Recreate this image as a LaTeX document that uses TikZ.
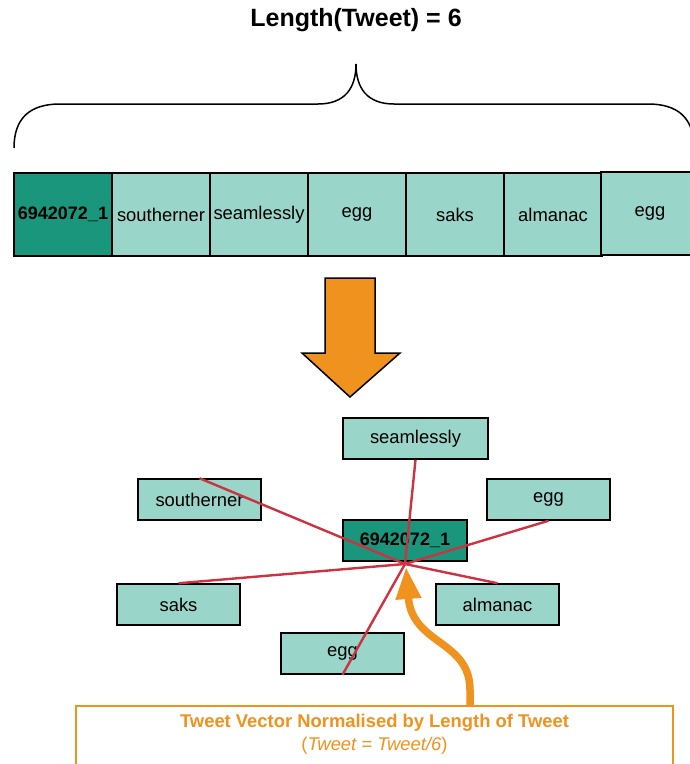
\documentclass[tikz,border=0pt]{standalone}
\usepackage{fontspec}
\setmainfont{Liberation Sans}
\usetikzlibrary{arrows.meta}
\definecolor{lightteal}{HTML}{9AD5CA}
\definecolor{darkteal}{HTML}{1A967C}
\definecolor{arroworange}{HTML}{F0921E}
\definecolor{linkred}{HTML}{CC3340}
\tikzset{
  cell/.style={draw=black, line width=1.5pt, fill=lightteal, inner sep=0pt,
    minimum width=98pt, minimum height=83pt, font=\fontsize{18.4}{21}\selectfont},
  idcell/.style={cell, fill=darkteal, font=\fontsize{18}{21}\selectfont\bfseries},
  wordbox/.style={draw=black, line width=1.5pt, fill=lightteal, inner sep=0pt,
    minimum width=123pt, minimum height=41pt, font=\fontsize{18.4}{21}\selectfont},
  idbox/.style={wordbox, fill=darkteal, font=\fontsize{18}{21}\selectfont\bfseries},
  link/.style={linkred, line width=2.4pt},
}

\begin{document}
\begin{tikzpicture}[x=1pt, y=-1pt]
\useasboundingbox (0,0) rectangle (690,764);
% Title and brace
    \node[font=\fontsize{25}{28}\selectfont\bfseries] (title) at (356,20) {Length(Tweet) = 6};
    \draw[line width=1.5pt] (14,148) .. controls (14,118) and (30,104) .. (60,104)
        -- (318,104) .. controls (345,104) and (356,88) .. (356,64)
        .. controls (356,88) and (367,104) .. (394,104)
        -- (648,104) .. controls (678,104) and (694,118) .. (694,148);
% Tweet as a row of tokens
    \node[idcell] (c0) at (63,214.5) {6942072\_1};
    \node[cell] (c1) at (161,214.5) {southerner};
    \node[cell] (c2) at (259,214.5) {seamlessly};
    \node[cell] (c3) at (357,214.5) {egg};
    \node[cell] (c4) at (455,214.5) {saks};
    \node[cell] (c5) at (553,214.5) {almanac};
    \node[cell] (c6) at (650,213.5) {egg};
% Down arrow
    \draw[line width=1.5pt, fill=arroworange] (325,278) -- (375,278) -- (375,353)
        -- (400,353) -- (350,397) -- (302,353) -- (325,353) -- cycle;
% Tokens around the tweet id
    \node[wordbox, minimum width=145pt] (seam) at (415.5,438.5) {seamlessly};
    \node[wordbox] (south) at (199.5,499.5) {southerner};
    \node[wordbox] (eggr) at (548.5,499.5) {egg};
    \node[idbox, minimum width=124pt] (tid) at (405,540.5) {6942072\_1};
    \node[wordbox] (saks) at (178.5,604.5) {saks};
    \node[wordbox] (alma) at (497.5,604.5) {almanac};
    \node[wordbox] (eggb) at (342.5,653.5) {egg};
    \coordinate (hub) at (405,564);
% Links from the hub
    \draw[link] (hub) -- (seam.south);
    \draw[link] (hub) -- (south.north);
    \draw[link] (hub) -- (eggr.south);
    \draw[link] (hub) -- (saks.north);
    \draw[link] (hub) -- (alma.north);
    \draw[link] (hub) -- (eggb.south);
% Note box and curved arrow
    \node[draw=arroworange, line width=1.5pt, fill=white, minimum width=597pt,
        minimum height=72pt, anchor=north] (note) at (374.5,705) {};
    \node[arroworange, align=center, font=\fontsize{18.4}{23}\selectfont, anchor=north]
        (notetext) at (374.5,711) {\textbf{Tweet Vector Normalised by Length of Tweet}\\(\textit{Tweet = Tweet/6})};
    \coordinate (tail) at (470,705);
    \coordinate (tip) at (406,567);
    \draw[arroworange, line width=7.5pt, -{Triangle[length=32pt, width=24pt]}]
        (tail) -- (470,690) .. controls (470,640) and (412,645) .. (tip);
\end{tikzpicture}
\end{document}
